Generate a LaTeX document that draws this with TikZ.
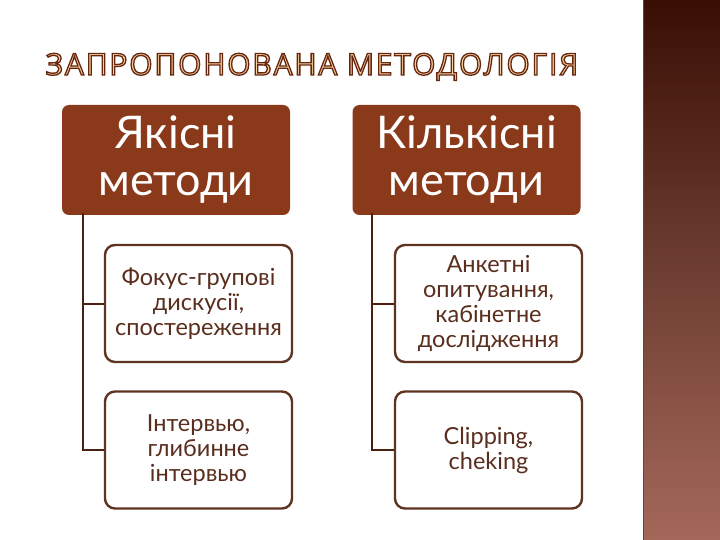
\documentclass[tikz,border=0pt]{standalone}
\usepackage{fontspec}
\setmainfont{Lato}
\newfontfamily\titlefont{Open Sans}
\usetikzlibrary{calc}
\definecolor{hdrfill}{HTML}{8A3A1A}
\definecolor{boxline}{HTML}{5E3320}
\definecolor{boxtext}{HTML}{5A2E1E}
\definecolor{conn}{HTML}{4A2010}
\definecolor{ttlfill}{HTML}{F8D2A0}
\definecolor{bartop}{HTML}{3A0E05}
\definecolor{barmid}{HTML}{6E3E32}
\definecolor{barbot}{HTML}{A4685A}
\newcommand{\outlinetext}[1]{\textcolor{ttlfill}{\special{pdf:literal q 0.40 0.15 0.06 RG 1.3 w 2 Tr}#1\special{pdf:literal Q}}}
\tikzset{
  hdr/.style={fill=hdrfill, draw=none, rounded corners=7pt, minimum width=228pt, minimum height=110pt,
    text=white, align=center, font=\fontsize{45}{47}\selectfont, inner sep=0pt},
  child/.style={fill=white, draw=boxline, line width=2.4pt, rounded corners=10pt, minimum width=187pt,
    minimum height=117pt, text=boxtext, align=center, font=\fontsize{23.5}{25}\selectfont, inner sep=0pt},
  connector/.style={draw=conn, line width=2pt}
}
\begin{document}
\begin{tikzpicture}[x=1pt,y=-1pt]
\useasboundingbox (0,0) rectangle (720,540);
\fill[white] (0,0) rectangle (720,540);
% right bar
\shade[top color=bartop, bottom color=barbot, middle color=barmid] (643,0) rectangle (720,540);
\draw[black!70, line width=1.2pt] (643.6,0) -- (643.6,540);
% title
\node[anchor=base, inner sep=0pt] (title) at (312,75) {\titlefont\fontsize{30}{30}\selectfont\addfontfeatures{LetterSpace=6}\outlinetext{ЗАПРОПОНОВАНА МЕТОДОЛОГІЯ}};
% headers
\node[hdr] (h1) at (176,160) {Якісні\\методи};
\node[hdr, minimum height=110pt] (h2) at (466.5,160) {Кількісні\\методи};
% children
\node[child] (c11) at (198.5,303.5) {Фокус-групові\\дискусії,\\спостереження};
\node[child] (c12) at (198.5,450) {Інтервью,\\глибинне\\інтервью};
\node[child] (c21) at (488.5,303.5) {Анкетні\\опитування,\\кабінетне\\дослідження};
\node[child] (c22) at (488.5,450) {Clipping,\\cheking};
% connectors
\coordinate (t1) at ($(h1.south west)+(21,-2)$);
\coordinate (t2) at ($(h2.south west)+(20,-2)$);
\draw[connector] (t1) |- (c12.west);
\draw[connector] (t1) |- (c11.west);
\draw[connector] (t2) |- (c22.west);
\draw[connector] (t2) |- (c21.west);
\end{tikzpicture}
\end{document}
